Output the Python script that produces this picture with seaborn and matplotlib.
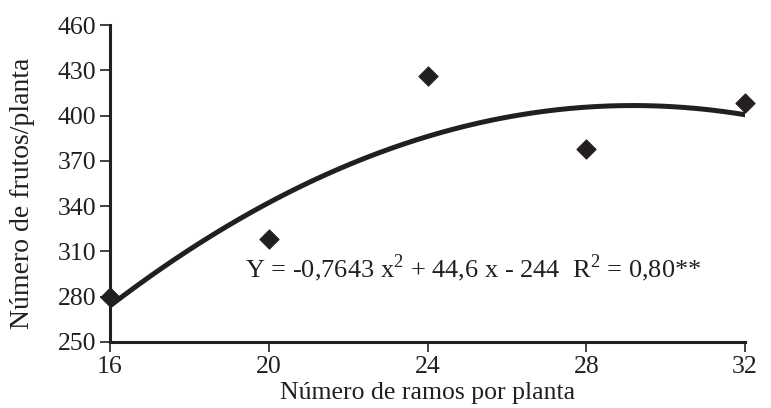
import numpy as np
import pandas as pd
import matplotlib
matplotlib.use("Agg")
import matplotlib.pyplot as plt
import seaborn as sns

# observed data
ramos = [16, 20, 24, 28, 32]
frutos = [280, 318, 426, 378, 408]

# fitted quadratic, coefficients from the equation on the chart
coef_a = -0.7643
coef_b = 44.6
coef_c = -244

xticks = [16, 20, 24, 28, 32]
yticks = [250, 280, 310, 340, 370, 400, 430, 460]

sns.set_theme(style="ticks")
plt.rcParams['font.family'] = ['Liberation Serif', 'DejaVu Serif']
plt.rcParams['mathtext.fontset'] = 'custom'
plt.rcParams['mathtext.rm'] = 'Liberation Serif'

ink = '#231f20'
df = pd.DataFrame({'x': ramos, 'y': frutos})
xs = np.linspace(min(ramos), max(ramos), 200)
fit = pd.DataFrame({'x': xs, 'y': coef_a * xs**2 + coef_b * xs + coef_c})

fig = plt.figure(figsize=(7.71, 4.08), dpi=100)
ax = fig.add_axes([0.1427, 0.1618, 0.8236, 0.7769])

sns.lineplot(data=fit, x='x', y='y', ax=ax, color=ink, linewidth=3.6)
sns.scatterplot(data=df, x='x', y='y', ax=ax, marker='D', s=95, color=ink,
                edgecolor=ink, zorder=5, clip_on=False)

ax.set_xlim(16, 32)
ax.set_ylim(250, 460)
ax.set_xticks(xticks)
ax.set_yticks(yticks)
ax.tick_params(labelsize=18.5, colors=ink, length=7, width=1.2, pad=3)
for s in ['top', 'right']:
    ax.spines[s].set_visible(False)
for s in ['left', 'bottom']:
    ax.spines[s].set_linewidth(2.2)
    ax.spines[s].set_color(ink)

ax.set_xlabel('Número de ramos por planta', fontsize=18.5, color=ink, labelpad=3)
ax.set_ylabel('Número de frutos/planta', fontsize=20, color=ink)
ax.yaxis.set_label_coords(-0.118, 0.47)

ax.text(19.4, 299, 'Y = -0,7643 x$^{\\mathrm{2}}$ + 44,6 x - 244  R$^{\\mathrm{2}}$ = 0,80**',
        fontsize=19, color=ink, va='center', ha='left')

fig.savefig('out.png', dpi=100)
